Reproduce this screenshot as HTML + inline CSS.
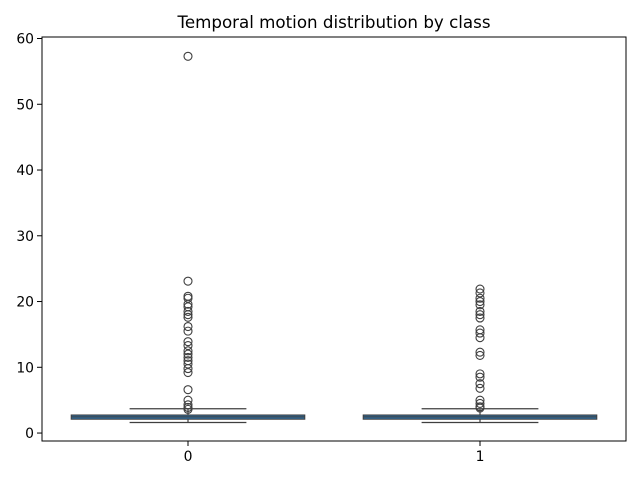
<!DOCTYPE html>
<html><head><meta charset="utf-8"><style>body{margin:0;background:#fff}svg{display:block;font-family:"DejaVu Sans","Liberation Sans",sans-serif}</style></head>
<body>
<svg id="chart" width="640" height="480">
<rect width="640" height="480" fill="#fff"/>
<text x="334" y="28" font-size="16.7" text-anchor="middle">Temporal motion distribution by class</text>
<g id="plot"></g>
</svg>
<script>
const categories = ["0","1"];
const q1 = [2.1, 2.1];
const medians = [2.45, 2.45];
const q3 = [2.75, 2.75];
const whiskerLow = [1.6, 1.6];
const whiskerHigh = [3.7, 3.7];
const outliers0 = [57.3,23.1,20.8,20.5,19.6,19.2,18.5,18,17.6,16.2,15.5,13.9,13.3,12.5,12,11.5,11,10.5,9.8,9.2,6.6,5,4.3,3.9,3.6];
const outliers1 = [21.9,21.3,20.5,20,19.5,18.5,18,17.5,15.7,15.2,14.5,12.3,11.8,9,8.5,7.5,6.8,5,4.5,4,3.8];
const yTicks = [0,10,20,30,40,50,60];

const L=42,R=626,T=37,B=441, yMin=-1.21, yMax=60.23;
const y = v => B - (v - yMin)/(yMax - yMin)*(B - T);
const band = (R-L)/categories.length;
const xc = i => L + band*(i+0.5);
const ns="http://www.w3.org/2000/svg";
const g=document.getElementById('plot');
function mk(tag, attrs){const e=document.createElementNS(ns,tag);for(const k in attrs)e.setAttribute(k,attrs[k]);g.appendChild(e);return e;}
const line="#3f3f3f";
const outs=[outliers0,outliers1];
categories.forEach((c,i)=>{
  const cx=xc(i), hw=band*0.4, cw=band*0.2;
  let e=mk('line',{x1:cx,x2:cx,y1:y(whiskerLow[i]),y2:y(q1[i]),stroke:line,'stroke-width':1.2});
  
  
  e=mk('line',{x1:cx,x2:cx,y1:y(q3[i]),y2:y(whiskerHigh[i]),stroke:line,'stroke-width':1.2});
  
  
  e=mk('line',{x1:cx-cw,x2:cx+cw,y1:y(whiskerLow[i]),y2:y(whiskerLow[i]),stroke:line,'stroke-width':1.2});
  
  
  e=mk('line',{x1:cx-cw,x2:cx+cw,y1:y(whiskerHigh[i]),y2:y(whiskerHigh[i]),stroke:line,'stroke-width':1.2});
  
  
  e=mk('rect',{x:cx-hw,y:y(q3[i]),width:2*hw,height:y(q1[i])-y(q3[i]),fill:'#2f6b9a',stroke:line,'stroke-width':1});
  
  
  e=mk('line',{x1:cx-hw,x2:cx+hw,y1:y(medians[i]),y2:y(medians[i]),stroke:line,'stroke-width':1});
  
  
  outs[i].forEach(v=>{
    const o=mk('circle',{cx:cx,cy:y(v),r:4,fill:'none',stroke:line,'stroke-width':1.1});
    
    
  });
  e=mk('line',{x1:cx,x2:cx,y1:B,y2:B+5,stroke:'#000'});
  
  
  const t=mk('text',{x:cx,y:B+20,'font-size':13.9,'text-anchor':'middle'});t.textContent=c;
  
  
});
yTicks.forEach(v=>{
  let e=mk('line',{x1:L-5,x2:L,y1:y(v),y2:y(v),stroke:'#000'});
  
  
  const t=mk('text',{x:L-8,y:y(v)+5,'font-size':13.9,'text-anchor':'end'});t.textContent=v;
  
  
});
const fr=mk('rect',{x:L,y:T,width:R-L,height:B-T,fill:'none',stroke:'#000','stroke-width':1});


</script>
</body></html>
